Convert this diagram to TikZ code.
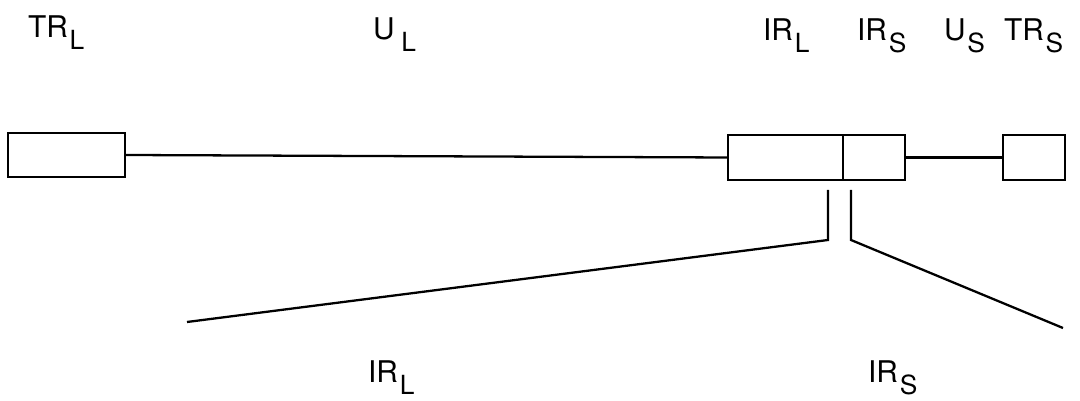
\documentclass[tikz,border=0pt]{standalone}
\usepackage{fontspec}
\setmainfont{TeX Gyre Heros}
\usetikzlibrary{positioning}
\newcommand{\lowsub}[1]{\kern1pt\raisebox{-6.5pt}{\fontsize{15}{18}\selectfont #1}}

\begin{document}
\begin{tikzpicture}[x=0.02cm, y=-0.02cm, line width=1.3pt,
  segbox/.style={draw, rectangle, inner sep=0pt, outer sep=0pt,
    minimum height=0.9cm},
  lbl/.style={anchor=base west, inner sep=0pt,
    font=\fontsize{17}{20}\selectfont}]
  \useasboundingbox (0,0) rectangle (1080,401);

  \node[segbox, minimum width=2.34cm, minimum height=0.88cm] (trL) at (66.5,155) {};
  \node[segbox, minimum width=2.3cm] (irL) at (785.5,157.5) {};
  \node[segbox, minimum width=1.24cm, right=0pt of irL] (irS) {};
  \node[segbox, minimum width=1.24cm] (trS) at (1034,157.5) {};

  \draw (trL.east) -- (irL.west);
  \draw (irS.east) -- (trS.west);

  \coordinate (lTop) at (828,190);
  \coordinate (lBend) at (828,240);
  \coordinate (lEnd) at (187,322);
  \coordinate (rTop) at (851,190);
  \coordinate (rBend) at (851,240);
  \coordinate (rEnd) at (1063,328);
  \draw (lTop) -- (lBend) -- (lEnd);
  \draw (rTop) -- (rBend) -- (rEnd);

  \node[lbl] (tTRL) at (27,38) {TR\lowsub{L}};
  \node[lbl] (tUL) at (372,40) {U\,\lowsub{L}};
  \node[lbl] (tIRL) at (762,41) {IR\lowsub{L}};
  \node[lbl] (tIRS) at (856,41) {IR\lowsub{S}};
  \node[lbl] (tUS) at (943,41) {U\lowsub{S}};
  \node[lbl] (tTRS) at (1003,41) {TR\lowsub{S}};
  \node[lbl] (bIRL) at (367,383) {IR\lowsub{L}};
  \node[lbl] (bIRS) at (867,383) {IR\lowsub{S}};
\end{tikzpicture}
\end{document}
